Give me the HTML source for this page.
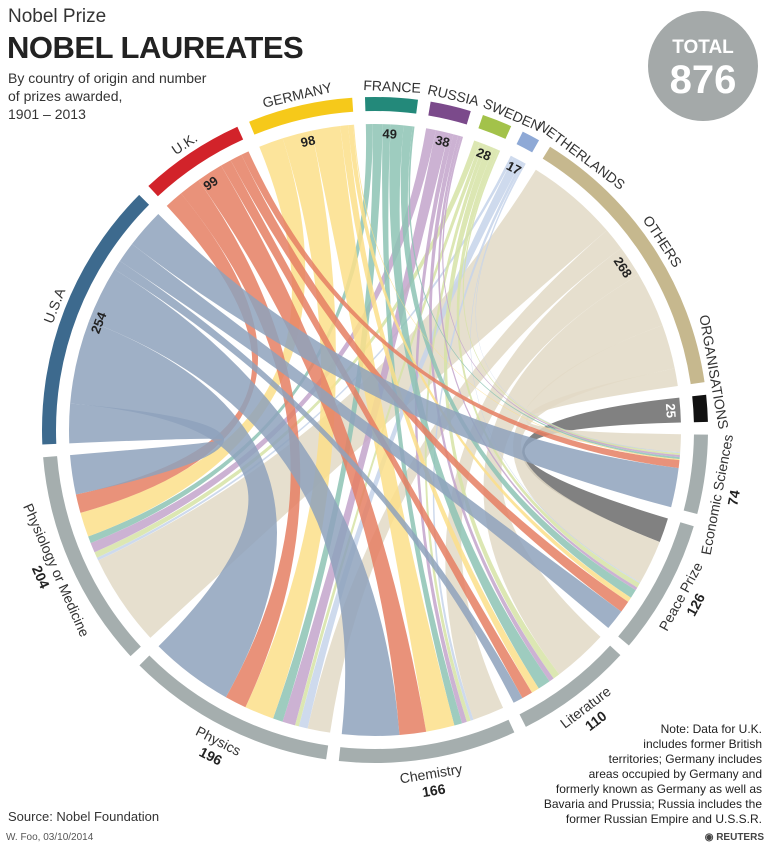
<!DOCTYPE html>
<html><head><meta charset="utf-8">
<style>
body{margin:0;background:#fff;font-family:"Liberation Sans",sans-serif;}
#w{position:relative;width:772px;height:847px;overflow:hidden;}
.t{position:absolute;color:#222;}
</style></head><body><div id="w">
<div class="t" style="left:8px;top:6px;font-size:19px;color:#333">Nobel Prize</div>
<div class="t" style="left:7px;top:30px;font-size:31px;font-weight:bold;letter-spacing:-0.5px">NOBEL LAUREATES</div>
<div class="t" style="left:8px;top:69px;font-size:14px;line-height:18px;color:#333">By country of origin and number<br>of prizes awarded,<br>1901 – 2013</div>
<div class="t" style="left:8px;top:809px;font-size:13px;color:#333">Source: Nobel Foundation</div>
<div class="t" style="left:6px;top:832px;font-size:10px;color:#555">W. Foo, 03/10/2014</div>
<div class="t" style="right:8px;top:832px;font-size:10px;color:#444;font-weight:bold">◉ REUTERS</div>
<div class="t" style="right:10px;top:722px;font-size:12px;line-height:15px;text-align:right;color:#222">Note: Data for U.K.<br>includes former British<br>territories; Germany includes<br>areas occupied by Germany and<br>formerly known as Germany as well as<br>Bavaria and Prussia; Russia includes the<br>former Russian Empire and U.S.S.R.</div>
<svg id="s" width="772" height="847" style="position:absolute;left:0;top:0">
<circle cx="703" cy="66" r="55" fill="#a4a9a9"/>
<text x="703" y="53" fill="#fff" font-size="19" font-weight="bold" text-anchor="middle" font-family="Liberation Sans">TOTAL</text>
<text x="703" y="93" fill="#fff" font-size="40" font-weight="bold" text-anchor="middle" font-family="Liberation Sans">876</text>
<g id="g"></g>
</svg>
</div>
<script>
var cx=375,cy=430,R=333,RW=14,RC=306;
var countries=[["U.S.A",254,"#3d6a8e","#8ea2bc",0],["U.K.",99,"#d2232a","#e57f63",0],["GERMANY",98,"#f6c91a","#fbdf8a",0],["FRANCE",49,"#23897a","#8dc3b4",0],["RUSSIA",38,"#7b4a8b","#c3a5cb",0],["SWEDEN",28,"#a3c24a","#d6e3a6",2],["NETHERLANDS",17,"#8ea9d6","#c5d3ea",9],["OTHERS",268,"#c6b88e","#e2d9c6",0],["ORGANISATIONS",25,"#111","#6b6b6b",-6]];
var prizes=[["Economic Sciences",74,3],["Peace Prize",126,0],["Literature",110,0],["Chemistry",166,0],["Physics",196,0],["Physiology or Medicine",204,0]];
var M=[[40,21,10,58,85,40],[8,12,11,27,22,19],[1,5,8,29,30,25],[2,9,13,8,10,7],[2,3,5,5,13,10],[2,5,7,4,4,6],[1,1,0,3,9,3],[18,45,56,32,23,94],[0,25,0,0,0,0]];
var gap=2.2,s=(360-15*gap)/1752,start=267.5;
function P(r,a){a=a*Math.PI/180;return [cx+r*Math.sin(a),cy-r*Math.cos(a)];}
var a=start,cA=[],pA=[];
countries.forEach(function(c){cA.push([a,a+c[1]*s]);a+=c[1]*s+gap;});
prizes.forEach(function(p){pA.push([a,a+p[1]*s]);a+=p[1]*s+gap;});
var h="";
function arc(r1,r2,a0,a1,col){var p0=P(r2,a0),p1=P(r2,a1),q1=P(r1,a1),q0=P(r1,a0);var l=(a1-a0)>180?1:0;
return '<path d="M'+p0+' A'+r2+' '+r2+' 0 '+l+' 1 '+p1+' L'+q1+' A'+r1+' '+r1+' 0 '+l+' 0 '+q0+'Z" fill="'+col+'"/>';}
var cPos=[],pPos=[];
countries.forEach(function(c,i){var x=cA[i][0];cPos[i]=[];for(var j=5;j>=0;j--){cPos[i][j]=[x,x+M[i][j]*s];x+=M[i][j]*s;}});
prizes.forEach(function(p,j){var x=pA[j][0];pPos[j]=[];for(var i=8;i>=0;i--){pPos[j][i]=[x,x+M[i][j]*s];x+=M[i][j]*s;}});
var ch="";
for(var i=8;i>=0;i--)for(var j=0;j<6;j++){if(!M[i][j])continue;var A=cPos[i][j],B=pPos[j][i];
var a0=P(RC,A[0]),a1=P(RC,A[1]),b0=P(RC,B[0]),b1=P(RC,B[1]);
ch+='<path d="M'+a0+' A'+RC+' '+RC+' 0 0 1 '+a1+' Q'+cx+' '+cy+' '+b0+' A'+RC+' '+RC+' 0 0 1 '+b1+' Q'+cx+' '+cy+' '+a0+'Z" fill="'+countries[i][3]+'" opacity="0.85"/>';}
h+=ch;
countries.forEach(function(c,i){h+=arc(R-RW,R,cA[i][0],cA[i][1],c[2]);});
prizes.forEach(function(p,j){h+=arc(R-RW,R,pA[j][0],pA[j][1],"#a5aeae");});
function lab(txt,ang,r,fs,fw,col){ang=((ang%360)+360)%360;var bottom=ang>95&&ang<265;var rot=bottom?ang-180:ang;var pt=P(r,ang);
return '<text transform="translate('+pt+') rotate('+rot+')" text-anchor="middle" font-size="'+fs+'" font-weight="'+fw+'" fill="'+col+'" font-family="Liberation Sans">'+txt+'</text>';}
countries.forEach(function(c,i){var m=(cA[i][0]+cA[i][1])/2;h+=lab(c[0],m+c[4],R+6,14,"normal","#333");
h+=lab(c[1],m,RC-14,13,"bold",i==8?"#fff":"#222");});
prizes.forEach(function(p,j){var m=(pA[j][0]+pA[j][1])/2+p[2];h+=lab(p[0],m,R+20,14,"normal","#333");h+=lab(p[1],m,R+37,14,"bold","#222");});
document.getElementById("g").innerHTML=h;
</script>
</body></html>
